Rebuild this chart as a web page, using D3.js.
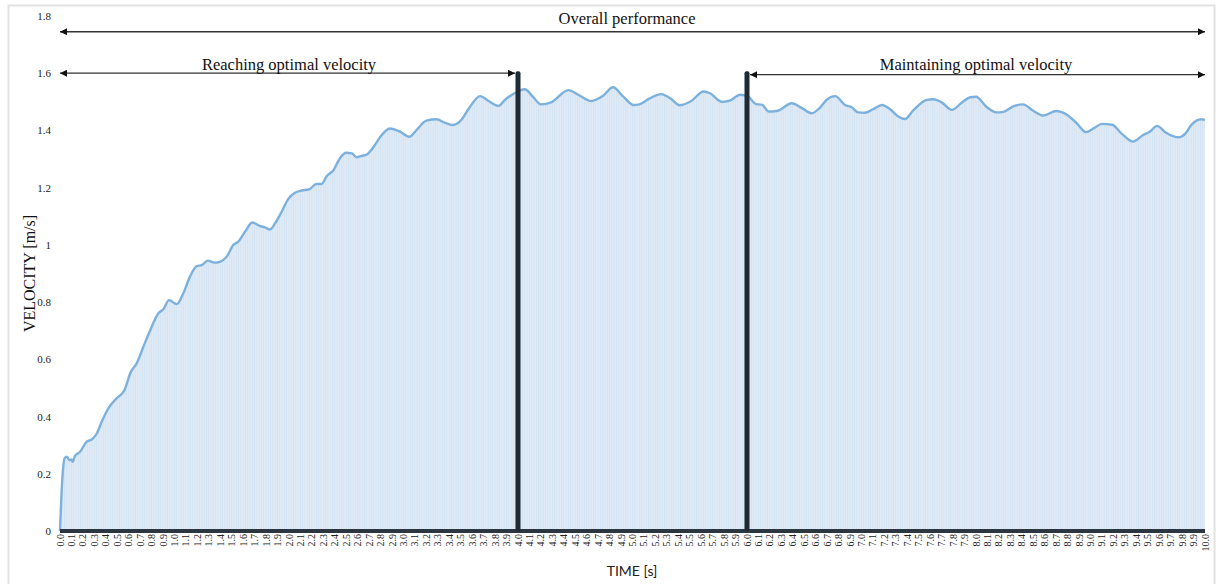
<!DOCTYPE html>
<html>
<head>
<meta charset="utf-8">
<script src="https://d3js.org/d3.v7.min.js"></script>
<style>
  body { margin: 0; background: #fff; }
</style>
</head>
<body>
<div id="chart"></div>
<script>
// data (time in s, velocity in m/s)
var timeS = [0, 0.02, 0.04, 0.06, 0.08, 0.10, 0.11, 0.13, 0.175, 0.233, 0.277, 0.32, 0.364, 0.422, 0.495,
  0.56, 0.62, 0.67, 0.728, 0.786, 0.859, 0.903, 0.952, 1.02, 1.077, 1.135, 1.194, 1.237, 1.29, 1.35,
  1.397, 1.456, 1.514, 1.557, 1.616, 1.68, 1.747, 1.79, 1.834, 1.878, 1.936, 1.994, 2.052, 2.11, 2.175,
  2.24, 2.285, 2.33, 2.39, 2.445, 2.50, 2.55, 2.59, 2.635, 2.68, 2.74, 2.795, 2.88, 2.97, 3.05,
  3.115, 3.20, 3.29, 3.36, 3.43, 3.51, 3.566, 3.67, 3.74, 3.83, 3.886, 3.97, 4.06, 4.13, 4.20,
  4.29, 4.44, 4.53, 4.64, 4.74, 4.83, 4.92, 5.01, 5.06, 5.15, 5.25, 5.34, 5.41, 5.51, 5.62,
  5.677, 5.78, 5.85, 5.94, 6.01, 6.08, 6.13, 6.19, 6.27, 6.39, 6.48, 6.565, 6.64, 6.695, 6.77,
  6.856, 6.914, 6.97, 7.03, 7.10, 7.18, 7.25, 7.32, 7.38, 7.45, 7.57, 7.63, 7.70, 7.79, 7.875,
  7.95, 8.00, 8.09, 8.18, 8.24, 8.33, 8.41, 8.50, 8.59, 8.70, 8.79, 8.88, 8.96, 9.03, 9.10,
  9.19, 9.27, 9.37, 9.46, 9.52, 9.58, 9.66, 9.77, 9.83, 9.88, 9.97, 10.0];
var velocity = [0, 0.18, 0.254, 0.26, 0.248, 0.25, 0.242, 0.262, 0.277, 0.312, 0.32, 0.34, 0.382, 0.429, 0.464,
  0.49, 0.557, 0.586, 0.644, 0.70, 0.761, 0.775, 0.807, 0.793, 0.831, 0.889, 0.926, 0.929, 0.945, 0.938,
  0.941, 0.959, 1.0, 1.011, 1.046, 1.078, 1.066, 1.061, 1.054, 1.075, 1.116, 1.161, 1.182, 1.19, 1.194,
  1.213, 1.213, 1.241, 1.262, 1.303, 1.322, 1.320, 1.306, 1.311, 1.316, 1.343, 1.376, 1.407, 1.396, 1.378,
  1.402, 1.434, 1.439, 1.427, 1.419, 1.439, 1.474, 1.520, 1.504, 1.486, 1.507, 1.530, 1.544, 1.518, 1.491,
  1.498, 1.541, 1.524, 1.503, 1.520, 1.551, 1.518, 1.489, 1.491, 1.512, 1.527, 1.509, 1.488, 1.502, 1.536,
  1.530, 1.500, 1.504, 1.525, 1.518, 1.492, 1.490, 1.466, 1.469, 1.495, 1.478, 1.460, 1.481, 1.507, 1.520,
  1.489, 1.481, 1.463, 1.462, 1.474, 1.489, 1.474, 1.449, 1.440, 1.469, 1.507, 1.509, 1.498, 1.472, 1.497,
  1.516, 1.518, 1.483, 1.463, 1.465, 1.485, 1.491, 1.469, 1.452, 1.468, 1.456, 1.425, 1.394, 1.408, 1.423,
  1.420, 1.390, 1.361, 1.384, 1.396, 1.416, 1.392, 1.376, 1.390, 1.419, 1.439, 1.437];

// x tick labels 0.0 .. 10.0
var xTicks = d3.range(0, 101).map(function(i) { return i / 10; });
var yTicks = [0, 0.2, 0.4, 0.6, 0.8, 1, 1.2, 1.4, 1.6, 1.8];

// phase markers and annotations
var phaseTimes = [4.0, 6.0];
var phaseTop = 1.6;
var spans = [
  { label: "Overall performance", from: 0, to: 10, level: 1.745, text: 1.79 },
  { label: "Reaching optimal velocity", from: 0, to: 4.0, level: 1.6, text: 1.628 },
  { label: "Maintaining optimal velocity", from: 6.0, to: 10, level: 1.595, text: 1.628 }
];

var data = timeS.map(function(t, i) { return { t: t, v: velocity[i] }; });

var W = 1219, H = 584;
var svg = d3.select("#chart")
  .append("svg")
    .attr("width", W)
    .attr("height", H);

// light frame
svg.append("rect")
  .attr("x", 8.5).attr("y", 5.5)
  .attr("width", 1206).attr("height", 590)
  .attr("fill", "none")
  .attr("stroke", "#e2e2e2")
  .attr("stroke-width", 2);

var x = d3.scaleLinear().domain([0, 10]).range([60, 1205]);
var y = d3.scaleLinear().domain([0, 1.8]).range([531, 16]);

var defs = svg.append("defs");

// vertical striped fill like the thin columns
var pat = defs.append("pattern")
  .attr("id", "stripes")
  .attr("patternUnits", "userSpaceOnUse")
  .attr("width", x(0.02) - x(0))
  .attr("height", 10);
pat.append("rect")
  .attr("width", x(0.02) - x(0)).attr("height", 10)
  .attr("fill", "#dfeaf6");
pat.append("rect")
  .attr("width", 0.6).attr("height", 10)
  .attr("fill", "#d0e1f1");

defs.append("marker")
  .attr("id", "arrow")
  .attr("viewBox", "0 0 10 10")
  .attr("refX", 10).attr("refY", 5)
  .attr("markerWidth", 7).attr("markerHeight", 7)
  .attr("markerUnits", "userSpaceOnUse")
  .attr("orient", "auto-start-reverse")
  .append("path")
    .attr("d", "M0,0 L10,5 L0,10 z")
    .attr("fill", "#111");

// area + line
svg.append("path")
  .datum(data)
  .attr("fill", "url(#stripes)")
  .attr("d", d3.area()
    .curve(d3.curveMonotoneX)
    .x(function(d) { return x(d.t); })
    .y0(y(0))
    .y1(function(d) { return y(d.v); }));

svg.append("path")
  .datum(data)
  .attr("fill", "none")
  .attr("stroke", "#7cb1dd")
  .attr("stroke-width", 2.4)
  .attr("stroke-linejoin", "round")
  .attr("d", d3.line()
    .curve(d3.curveMonotoneX)
    .x(function(d) { return x(d.t); })
    .y(function(d) { return y(d.v); }));

// thick baseline
svg.append("rect")
  .attr("x", x(0)).attr("y", y(0) - 2)
  .attr("width", x(10) - x(0)).attr("height", 4)
  .attr("fill", "#2b3640");

// phase bars
svg.selectAll(".phase")
  .data(phaseTimes)
  .enter()
  .append("rect")
    .attr("class", "phase")
    .attr("x", function(d) { return x(d) - 2.5; })
    .attr("y", y(phaseTop) - 2)
    .attr("width", 5)
    .attr("height", function() { return y(0) - y(phaseTop) + 2; })
    .attr("rx", 2)
    .attr("fill", "#1f2a34");

// y axis labels
svg.selectAll(".ytick")
  .data(yTicks)
  .enter()
  .append("text")
    .attr("x", 51)
    .attr("y", function(d) { return y(d) + 4; })
    .attr("text-anchor", "end")
    .attr("font-family", "Liberation Serif, serif")
    .attr("font-size", 11)
    .attr("fill", "#222")
    .text(function(d) { return d; });

svg.append("text")
  .attr("transform", "translate(35," + y(0.9) + ") rotate(-90)")
  .attr("text-anchor", "middle")
  .attr("font-family", "Liberation Serif, serif")
  .attr("font-size", 16)
  .attr("fill", "#111")
  .text("VELOCITY [m/s]");

// x axis labels, rotated
svg.selectAll(".xtick")
  .data(xTicks)
  .enter()
  .append("text")
    .attr("transform", function(d) { return "translate(" + (x(d) + 3.5) + "," + 534 + ") rotate(-90)"; })
    .attr("text-anchor", "end")
    .attr("font-family", "Liberation Serif, serif")
    .attr("font-size", 10)
    .attr("fill", "#222")
    .text(function(d) { return d.toFixed(1); });

svg.append("text")
  .attr("x", 632).attr("y", 576)
  .attr("text-anchor", "middle")
  .attr("font-family", "Lato, Open Sans, sans-serif")
  .attr("font-size", 14)
  .attr("fill", "#222")
  .text("TIME [s]");

// annotation arrows
svg.selectAll(".span")
  .data(spans)
  .enter()
  .append("line")
    .attr("x1", function(d) { return x(d.from) + (d.from > 0 ? 3 : 0); })
    .attr("x2", function(d) { return x(d.to) - (d.to < 10 ? 3 : 0); })
    .attr("y1", function(d) { return y(d.level); })
    .attr("y2", function(d) { return y(d.level); })
    .attr("stroke", "#333")
    .attr("stroke-width", 1.3)
    .attr("marker-start", "url(#arrow)")
    .attr("marker-end", "url(#arrow)");

svg.selectAll(".spanlabel")
  .data(spans)
  .enter()
  .append("text")
    .attr("x", function(d, i) { return i == 0 ? 627 : (x(d.from) + x(d.to)) / 2; })
    .attr("y", function(d) { return y(d.text) + 5; })
    .attr("text-anchor", "middle")
    .attr("font-family", "Liberation Serif, serif")
    .attr("font-size", 16.5)
    .attr("fill", "#111")
    .text(function(d) { return d.label; });
</script>
</body>
</html>
